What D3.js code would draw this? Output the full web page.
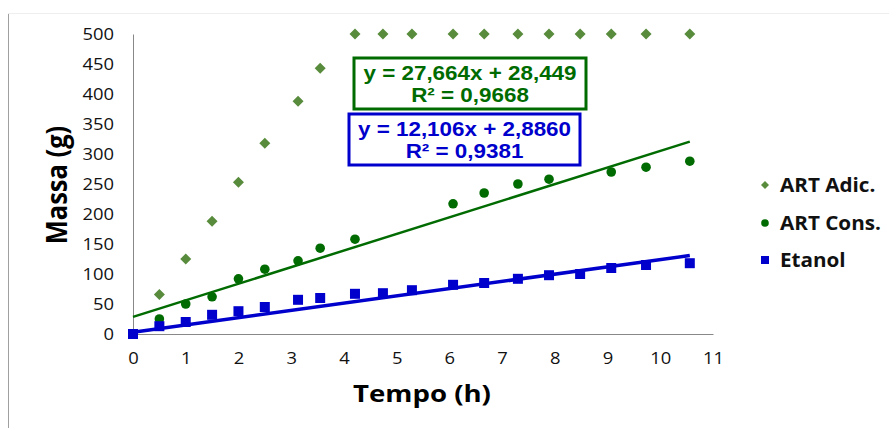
<!DOCTYPE html>
<html>
<head>
<meta charset="utf-8">
<script src="https://cdn.jsdelivr.net/npm/d3@7"></script>
<style>
  body { margin: 0; background: #fff; }
  svg { display: block; font-family: "Open Sans", sans-serif; }
</style>
</head>
<body>
<svg id="chart" width="889" height="428"></svg>
<script>
// tempo (h) e massas (g)
var tempo   = [0, 0.5, 1, 1.5, 2, 2.5, 3.13, 3.55, 4.21, 4.74, 5.29, 6.07, 6.66, 7.30, 7.89, 8.48, 9.07, 9.73, 10.56];
var artAdic = [null, 66, 125, 188, 253, 318, 388, 443, 500, 500, 500, 500, 500, 500, 500, 500, 500, 500, 500];
var artCons = [null, 25, 50, 62, 92, 108, 122, 143, 158, null, null, 217, 235, 250, 258, null, 270, 278, 288];
var etanol  = [0, 13, 20, 32, 38, 45, 57, 60, 67, 68, 73, 82, 85, 92, 98, 100, 110, 115, 118];

var seriesNames = ["ART Adic.", "ART Cons.", "Etanol"];
var yTicks = [0, 50, 100, 150, 200, 250, 300, 350, 400, 450, 500];
var xTicks = [0, 1, 2, 3, 4, 5, 6, 7, 8, 9, 10, 11];

// linhas de tendencia (ART Cons. e Etanol)
var trendSlope = [27.664, 12.106];
var trendIntercept = [28.449, 2.886];
var trendLabels = [["y = 27,664x + 28,449", "R\u00b2 = 0,9668"], ["y = 12,106x + 2,8860", "R\u00b2 = 0,9381"]];

var svg = d3.select("#chart");
var margin = {left: 133, top: 34, right: 176, bottom: 94};
var width = 889 - margin.left - margin.right,
    height = 428 - margin.top - margin.bottom;

var x = d3.scaleLinear().domain([0, 11]).range([margin.left, margin.left + width]);
var y = d3.scaleLinear().domain([0, 500]).range([margin.top + height, margin.top]);

// the source image is a bit wider than tall, text looks stretched
var sx = 1.15;

// borda da area do grafico
svg.append("line").attr("x1", 8.5).attr("x2", 8.5).attr("y1", 13).attr("y2", 428)
    .attr("stroke", "#a0a0a0").attr("stroke-width", 1);
svg.append("line").attr("x1", 8).attr("x2", 889).attr("y1", 13.5).attr("y2", 13.5)
    .attr("stroke", "#eeeeee").attr("stroke-width", 1);

// eixos
var yAxis = svg.append("g")
    .attr("transform", "translate(" + margin.left + ",0)")
    .call(d3.axisLeft(y).tickValues(yTicks).tickSize(0).tickPadding(0));
var xAxis = svg.append("g")
    .attr("transform", "translate(0," + (margin.top + height) + ")")
    .call(d3.axisBottom(x).tickValues(xTicks).tickSize(0).tickPadding(0));

[yAxis, xAxis].forEach(function (a) {
    a.select(".domain").attr("stroke", "#888888");
    a.selectAll("text")
        .attr("font-family", "Open Sans").attr("font-size", 16).attr("fill", "#111")
        .attr("x", null).attr("y", null).attr("dy", null);
});
yAxis.selectAll(".tick text")
    .attr("transform", "translate(-19,5.5) scale(" + sx + ",1)");
xAxis.selectAll(".tick text")
    .attr("transform", "translate(0,29.5) scale(" + sx + ",1)");

// titulos dos eixos
svg.append("text")
    .attr("transform", "translate(422,402) scale(" + sx + ",1)")
    .attr("text-anchor", "middle")
    .attr("font-size", 24).attr("font-weight", "bold")
    .text("Tempo (h)");
svg.append("text")
    .attr("transform", "translate(67,185) scale(" + sx + ",1) rotate(-90)")
    .attr("text-anchor", "middle")
    .attr("font-size", 25.5).attr("font-weight", "bold")
    .text("Massa (g)");

var diamond = "M0,-5.5L5.5,0L0,5.5L-5.5,0Z";
var colAdic = "#588c3c", colCons = "#006b00", colEtanol = "#0000cc";

function pts(vals) {
    return tempo.map(function (t, i) { return {t: t, v: vals[i]}; })
        .filter(function (d) { return d.v !== null; });
}

// pontos
svg.append("g").selectAll("path").data(pts(artAdic)).enter().append("path")
    .attr("d", diamond)
    .attr("transform", function (d) { return "translate(" + x(d.t) + "," + y(d.v) + ")"; })
    .attr("fill", colAdic);

svg.append("g").selectAll("circle").data(pts(artCons)).enter().append("circle")
    .attr("cx", function (d) { return x(d.t); })
    .attr("cy", function (d) { return y(d.v); })
    .attr("r", 4.8)
    .attr("fill", colCons);

svg.append("g").selectAll("rect").data(pts(etanol)).enter().append("rect")
    .attr("x", function (d) { return x(d.t) - 5; })
    .attr("y", function (d) { return y(d.v) - 5; })
    .attr("width", 10).attr("height", 10)
    .attr("fill", colEtanol);

// tendencias
var tMax = d3.max(tempo);
var trendColors = [colCons, colEtanol];
var trendWidths = [2.5, 3.5];
trendSlope.forEach(function (m, i) {
    var b = trendIntercept[i];
    svg.append("line")
        .attr("x1", x(0)).attr("y1", y(b))
        .attr("x2", x(tMax)).attr("y2", y(m * tMax + b))
        .attr("stroke", trendColors[i])
        .attr("stroke-width", trendWidths[i]);
});

// caixas com as equacoes
var boxes = [{x: 354, y: 58, w: 232, h: 51}, {x: 349, y: 114, w: 231, h: 51}];
boxes.forEach(function (bx, i) {
    svg.append("rect")
        .attr("x", bx.x).attr("y", bx.y).attr("width", bx.w).attr("height", bx.h)
        .attr("fill", "#fff")
        .attr("stroke", trendColors[i]).attr("stroke-width", 3);
    trendLabels[i].forEach(function (s, j) {
        svg.append("text")
            .attr("transform", "translate(" + (bx.x + bx.w / 2) + "," + (bx.y + 22 + j * 22) + ") scale(" + sx + ",1)")
            .attr("text-anchor", "middle")
            .attr("font-family", "Liberation Sans, Arial, sans-serif")
            .attr("font-weight", "bold")
            .attr("font-size", 19.5)
            .attr("fill", trendColors[i])
            .text(s);
    });
});

// legenda
var legY = [185, 223, 260];
var legend = svg.append("g");
seriesNames.forEach(function (name, i) {
    var g = legend.append("g").attr("transform", "translate(765," + legY[i] + ")");
    if (i === 0) g.append("path").attr("d", "M0,-4L4,0L0,4L-4,0Z").attr("fill", colAdic);
    if (i === 1) g.append("circle").attr("r", 3.8).attr("fill", colCons);
    if (i === 2) g.append("rect").attr("x", -4).attr("y", -4).attr("width", 8).attr("height", 8).attr("fill", colEtanol);
    g.append("text")
        .attr("transform", "translate(15,7) scale(1.06,1)")
        .attr("font-size", 19.5).attr("font-weight", "bold")
        .attr("fill", "#111")
        .text(name);
});
</script>
</body>
</html>
